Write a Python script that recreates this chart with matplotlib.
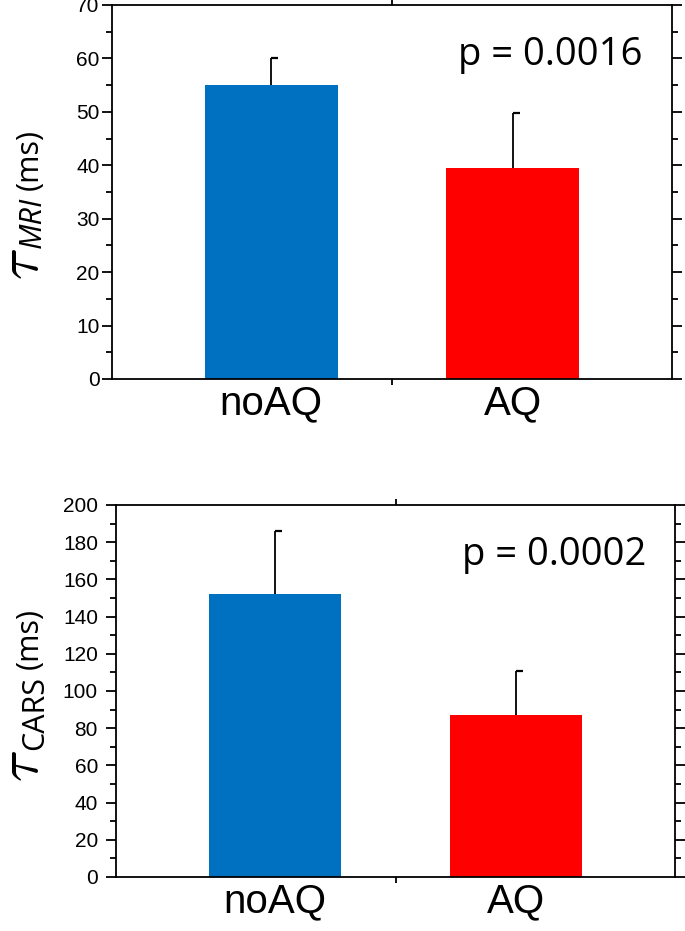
import matplotlib
matplotlib.use("Agg")
import matplotlib.pyplot as plt
from matplotlib.path import Path
from matplotlib.ticker import MultipleLocator, FixedLocator

# data
groups = ["noAQ", "AQ"]
colors = ["#0070C0", "#FF0000"]
mri_mean = [55.0, 39.5]
mri_err = [5.0, 10.3]
cars_mean = [152.0, 87.0]
cars_err = [34.0, 23.5]
p_values = ["p = 0.0016", "p = 0.0002"]

W, H = 685, 931
fig = plt.figure(figsize=(W / 100, H / 100), dpi=100)
plt.rcParams['mathtext.fontset'] = 'cm'

# half cap (only to the right of the error bar), like the original
half_cap = Path([(0, 0), (1, 0)], [Path.MOVETO, Path.LINETO])


def draw_panel(rect, means, errs, ymax, major, minor, ptxt, label_pad):
    ax = fig.add_axes(rect)
    x = list(range(len(groups)))
    ax.bar(x, means, width=0.55, color=colors, zorder=2)
    ax.errorbar(x, means, yerr=[[0] * len(errs), errs], fmt='none',
                ecolor='black', elinewidth=1.3, capsize=0, zorder=3)
    tops = [m + e for m, e in zip(means, errs)]
    ax.plot(x, tops, ls='none', marker=half_cap, markersize=10,
            markeredgewidth=1.6, color='black', zorder=3)

    ax.set_xlim(-0.66, 1.66)
    ax.set_ylim(0, ymax)
    ax.yaxis.set_major_locator(MultipleLocator(major))
    ax.yaxis.set_minor_locator(MultipleLocator(minor))
    ax.set_xticks(x)
    ax.set_xticklabels(groups, fontsize=29, family='Liberation Sans')
    ax.xaxis.set_minor_locator(FixedLocator([0.5]))

    for s in ax.spines.values():
        s.set_linewidth(1.3)
    ax.tick_params(axis='y', which='both', direction='out', left=True,
                   right=True, width=1.3, labelsize=15, pad=label_pad)
    ax.tick_params(axis='y', which='major', length=7)
    ax.tick_params(axis='y', which='minor', length=4)
    ax.tick_params(axis='x', which='major', length=0, pad=4)
    ax.tick_params(axis='x', which='minor', length=4, width=1.3,
                   top=True, bottom=True, direction='out')
    for lab in ax.get_yticklabels():
        lab.set_family('Liberation Sans')

    ax.text(0.948, 0.84, ptxt, transform=ax.transAxes, ha='right',
            va='baseline', fontsize=27.5, family='Open Sans')
    return ax


draw_panel([112 / W, 1 - 379 / H, 560 / W, 374 / H], mri_mean, mri_err,
           70, 10, 5, p_values[0], 2)
draw_panel([116 / W, 1 - 877 / H, 559 / W, 372 / H], cars_mean, cars_err,
           200, 20, 10, p_values[1], 6)

renderer = fig.canvas.get_renderer()


def ylabel_pieces(y_start, pieces):
    # y labels built from pieces so the tau can be larger than the rest;
    # each piece starts where the previous one ends
    y = H - y_start
    for s, xb, gap, kw in pieces:
        t = fig.text(xb / W, y / H, s, rotation=90, rotation_mode='anchor',
                     ha='left', va='baseline', **kw)
        bb = t.get_window_extent(renderer)
        y = bb.y1 + gap


ylabel_pieces(280, [
    (r'$\tau$', 38, 0, dict(fontsize=42)),
    ('MRI', 41, 7, dict(fontsize=22, family='Open Sans', style='italic')),
    ('(ms)', 38, 0, dict(fontsize=22, family='Open Sans')),
])
ylabel_pieces(782, [
    (r'$\tau$', 38, 0, dict(fontsize=42)),
    ('CARS', 43, 7, dict(fontsize=22, family='Open Sans')),
    ('(ms)', 38, 0, dict(fontsize=22, family='Open Sans')),
])

fig.savefig("out.png", dpi=100)
